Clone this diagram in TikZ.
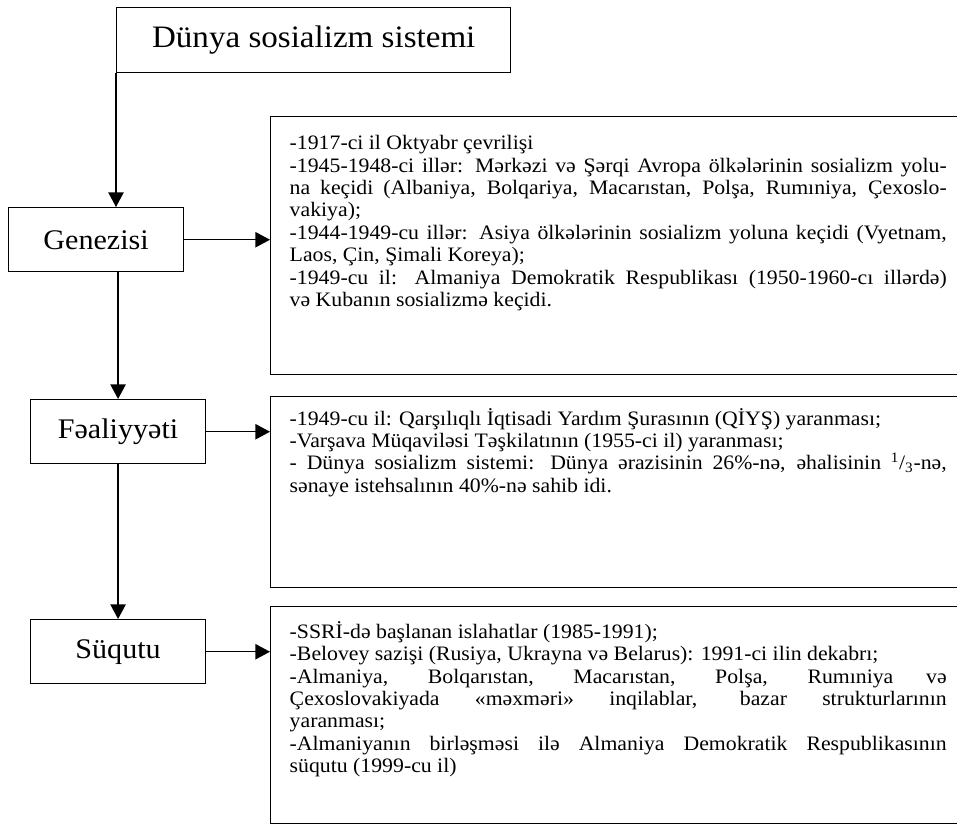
\documentclass[tikz,border=0pt]{standalone}
\usepackage{fontspec}
\setmainfont[FakeStretch=1.06]{Liberation Serif}
\usetikzlibrary{arrows.meta,positioning}
\newcommand{\fullline}[1]{\makebox[\linewidth][s]{#1}}
\newcommand{\bodysize}{\fontsize{15.4pt}{16.8pt}\selectfont\lineskiplimit=-5pt}

\begin{document}
\begin{tikzpicture}[x=0.75pt,y=-0.75pt,
    head/.style={draw,line width=1.1pt,anchor=north west,minimum width=295.5pt,minimum height=48.75pt,font=\fontsize{23.4pt}{27pt}\selectfont},
    label/.style={draw,line width=1.1pt,anchor=north west,minimum width=131pt,minimum height=48pt,font=\fontsize{21.3pt}{25pt}\selectfont},
    info/.style={draw,line width=1.1pt,anchor=north west,inner sep=0pt},
    arr/.style={-{Triangle[length=11pt,width=11.5pt]},line width=1.1pt}]
    \path[use as bounding box,clip] (0,0) rectangle (957,825);
    \node[head] (system) at (116,7) {Dünya sosializm sistemi};
    \node[label] (genesis) at (8,207) {Genezisi};
    \node[label] (activity) at (30,399) {Fəaliyyəti};
    \node[label] (collapse) at (30,619) {Süqutu};
    \node[info] (genesistext) at (270,116) {\hspace*{14.25pt}\parbox[t][193.5pt][t]{492.75pt}{\bodysize\raggedright\vspace*{14pt}%
      -1917-ci il Oktyabr çevrilişi\\
      \fullline{-1945-1948-ci illər: Mərkəzi və Şərqi Avropa ölkələrinin sosializm yolu-}\\
      \fullline{na keçidi (Albaniya, Bolqariya, Macarıstan, Polşa, Rumıniya, Çexoslo-}\\
      vakiya);\\
      \fullline{-1944-1949-cu illər: Asiya ölkələrinin sosializm yoluna keçidi (Vyetnam,}\\
      Laos, Çin, Şimali Koreya);\\
      \fullline{-1949-cu il: Almaniya Demokratik Respublikası (1950-1960-cı illərdə)}\\
      və Kubanın sosializmə keçidi.}\hspace*{30pt}};
    \node[info] (activitytext) at (270,396) {\hspace*{14.25pt}\parbox[t][143.25pt][t]{492.75pt}{\bodysize\raggedright\vspace*{8.5pt}%
      -1949-cu il: Qarşılıqlı İqtisadi Yardım Şurasının (QİYŞ) yaranması;\\
      -Varşava Müqaviləsi Təşkilatının (1955-ci il) yaranması;\\
      \fullline{- Dünya sosializm sistemi: Dünya ərazisinin 26\%-nə, əhalisinin \textsuperscript{1}/\textsubscript{3}-nə,}\\
      sənaye istehsalının 40\%-nə sahib idi.}\hspace*{30pt}};
    \node[info] (collapsetext) at (270,606) {\hspace*{14.25pt}\parbox[t][162.75pt][t]{492.75pt}{\bodysize\raggedright\vspace*{11pt}%
      -SSRİ-də başlanan islahatlar (1985-1991);\\
      -Belovey sazişi (Rusiya, Ukrayna və Belarus): 1991-ci ilin dekabrı;\\
      \fullline{-Almaniya, Bolqarıstan, Macarıstan, Polşa, Rumıniya və}\\
      \fullline{Çexoslovakiyada «məxməri» inqilablar, bazar strukturlarının}\\
      yaranması;\\
      \fullline{-Almaniyanın birləşməsi ilə Almaniya Demokratik Respublikasının}\\
      süqutu (1999-cu il)}\hspace*{30pt}};
    \draw[arr] (system.south west)--(system.south west |- genesis.north);
    \draw[arr] (genesis.south -| activity.north)--(activity.north); \draw[arr] (activity.south)--(collapse.north);
    \draw[arr] (genesis.east)--(genesis.east -| genesistext.west);
    \draw[arr] (activity.east)--(activity.east -| activitytext.west);
    \draw[arr] (collapse.east)--(collapse.east -| collapsetext.west);
  \end{tikzpicture}
\end{document}
